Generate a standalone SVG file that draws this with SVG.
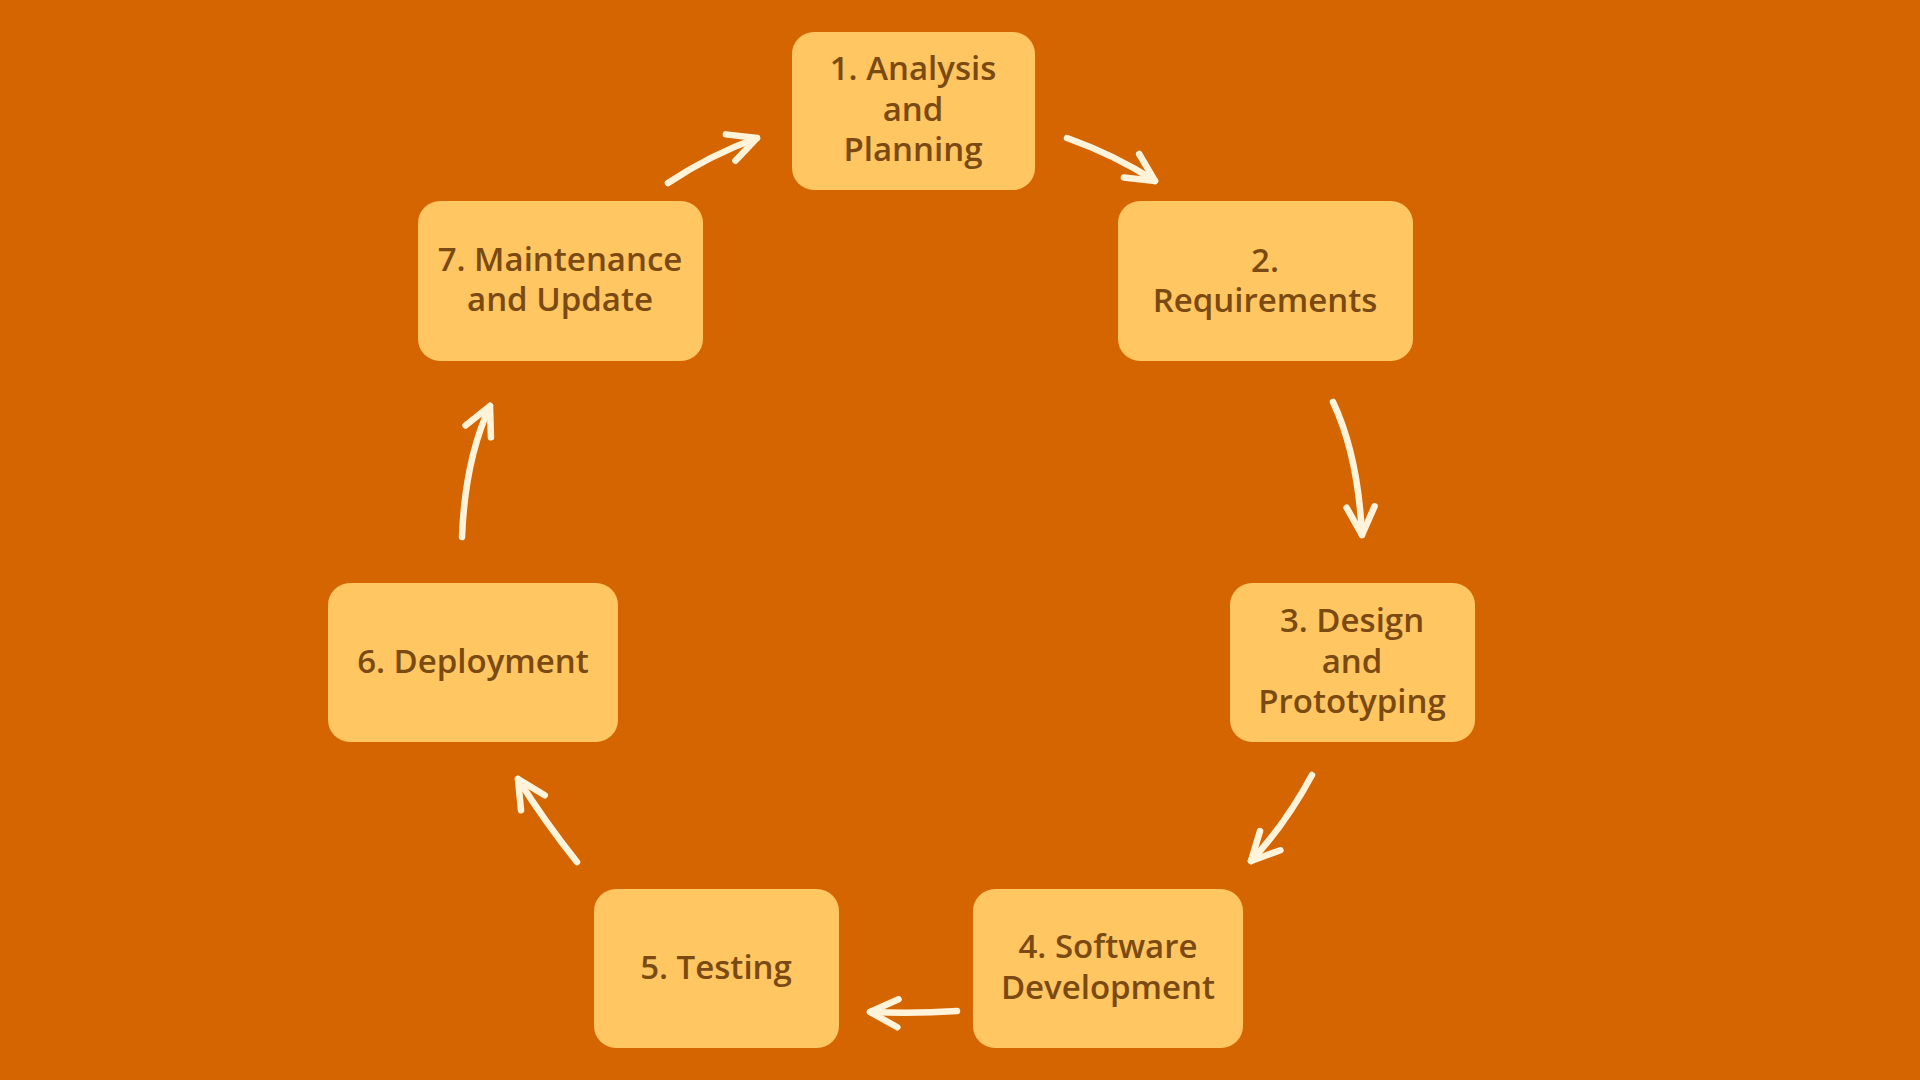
<svg xmlns="http://www.w3.org/2000/svg" width="1920" height="1080" viewBox="0 0 1920 1080">
<style>
.box{fill:#FFC661;}
.lbl{font-family:"Open Sans","Noto Sans","Liberation Sans",sans-serif;font-weight:600;font-size:33px;fill:#7A4A12;text-anchor:middle;}
.arr{fill:none;stroke:#FFF3DA;stroke-width:6.5;stroke-linecap:round;stroke-linejoin:round;marker-end:url(#head);}
</style>
<defs>
<marker id="head" markerUnits="userSpaceOnUse" viewBox="-40 -20 50 40" refX="0" refY="0" markerWidth="50" markerHeight="40" orient="auto" overflow="visible">
<path d="M -28 -14 L 0 0 L -28 14" fill="none" stroke="#FFF3DA" stroke-width="6.5" stroke-linecap="round" stroke-linejoin="round"/>
</marker>
</defs>
<rect width="1920" height="1080" fill="#D56500"/>
<g id="connectors">
<path class="arr" d="M1067,138 Q1115,155 1155,181"/>
<path class="arr" d="M1333,402 Q1358,455 1362,535"/>
<path class="arr" d="M1312,775 Q1285,825 1251,861"/>
<path class="arr" d="M957,1011 Q915,1014 870,1012"/>
<path class="arr" d="M577,862 Q545,822 518,779"/>
<path class="arr" d="M462,537 Q465,460 490,406"/>
<path class="arr" d="M668,183 Q710,155 757,138"/>
</g>
<g id="node1">
<rect class="box" x="792" y="32" width="243" height="158" rx="22"/>
<text class="lbl" x="913" y="80">1. Analysis</text>
<text class="lbl" x="913" y="121">and</text>
<text class="lbl" x="913" y="161">Planning</text>
</g>
<g id="node2">
<rect class="box" x="1118" y="201" width="295" height="160" rx="22"/>
<text class="lbl" x="1265" y="272">2.</text>
<text class="lbl" x="1265" y="312">Requirements</text>
</g>
<g id="node3">
<rect class="box" x="1230" y="583" width="245" height="159" rx="22"/>
<text class="lbl" x="1352" y="632">3. Design</text>
<text class="lbl" x="1352" y="673">and</text>
<text class="lbl" x="1352" y="713">Prototyping</text>
</g>
<g id="node4">
<rect class="box" x="973" y="889" width="270" height="159" rx="22"/>
<text class="lbl" x="1108" y="958">4. Software</text>
<text class="lbl" x="1108" y="999">Development</text>
</g>
<g id="node5">
<rect class="box" x="594" y="889" width="245" height="159" rx="22"/>
<text class="lbl" x="716" y="979">5. Testing</text>
</g>
<g id="node6">
<rect class="box" x="328" y="583" width="290" height="159" rx="22"/>
<text class="lbl" x="473" y="673">6. Deployment</text>
</g>
<g id="node7">
<rect class="box" x="418" y="201" width="285" height="160" rx="22"/>
<text class="lbl" x="560" y="271">7. Maintenance</text>
<text class="lbl" x="560" y="311">and Update</text>
</g>
</svg>
